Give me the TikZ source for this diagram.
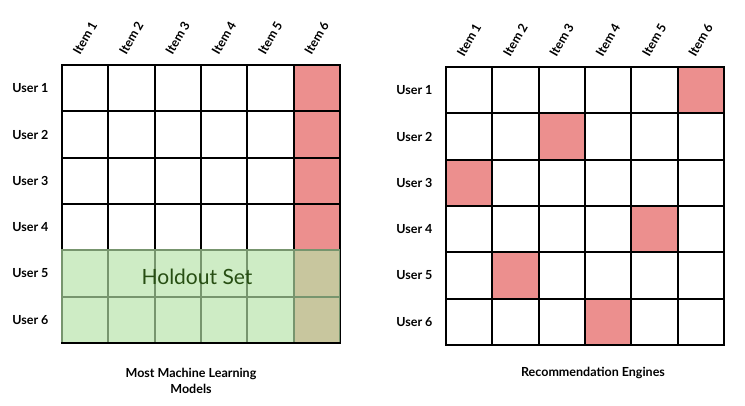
\documentclass[tikz,border=0pt]{standalone}
\usepackage{xcolor}
\usepackage{fontspec}
\setmainfont{Lato}
\usepackage{tikz}
\usetikzlibrary{positioning}
\definecolor{rated}{RGB}{236,143,142}
\definecolor{holdout}{RGB}{182,227,167}
\definecolor{holdouttext}{RGB}{39,78,19}

\begin{document}
\begin{tikzpicture}[x=1pt, y=-1pt,
  cell/.style={draw=black, line width=2pt, minimum size=46.33pt, inner sep=0pt, anchor=north west},
  userlabel/.style={font=\bfseries\fontsize{12.5}{14}\selectfont},
  itemlabel/.style={font=\bfseries\fontsize{12.5}{14}\selectfont, rotate=60, anchor=south west, inner sep=0pt},
  caption/.style={font=\bfseries\fontsize{12.5}{16}\selectfont, align=center}]
\useasboundingbox (0,0) rectangle (745,406);

\foreach \r in {1,...,6}
  \foreach \c in {1,...,6} {
    \ifnum\c=6 \def\shade{rated}\else \def\shade{white}\fi
    \node[cell, fill=\shade] (L-\r-\c) at ({61+(\c-1)*46.33},{64+(\r-1)*46.33}) {};
  }

\foreach \r/\h in {1/6,2/3,3/1,4/5,5/2,6/4}
  \foreach \c in {1,...,6} {
    \ifnum\c=\h \def\shade{rated}\else \def\shade{white}\fi
    \node[cell, fill=\shade] (R-\r-\c) at ({445+(\c-1)*46.33},{66+(\r-1)*46.33}) {};
  }

\fill[holdout, fill opacity=0.66] (L-5-1.north west) rectangle ([xshift=-1pt, yshift=1.5pt]L-6-6.south east);
\node[font=\fontsize{21}{25}\selectfont, text=holdouttext] (holdout) at (197,277) {Holdout Set};

\foreach \n in {1,...,6} {
  \node[userlabel, left=9pt of L-\n-1] (LU-\n) {User \n};
  \node[userlabel, left=9pt of R-\n-1] (RU-\n) {User \n};
  \node[itemlabel] (LI-\n) at ([xshift=-5pt, yshift=8pt]L-1-\n.north) {Item \n};
  \node[itemlabel] (RI-\n) at ([xshift=-5pt, yshift=8pt]R-1-\n.north) {Item \n};
}

\node[caption] (Lcap) at (191,381) {Most Machine Learning\\Models};
\node[caption] (Rcap) at (593,373) {Recommendation Engines};
\end{tikzpicture}
\end{document}
